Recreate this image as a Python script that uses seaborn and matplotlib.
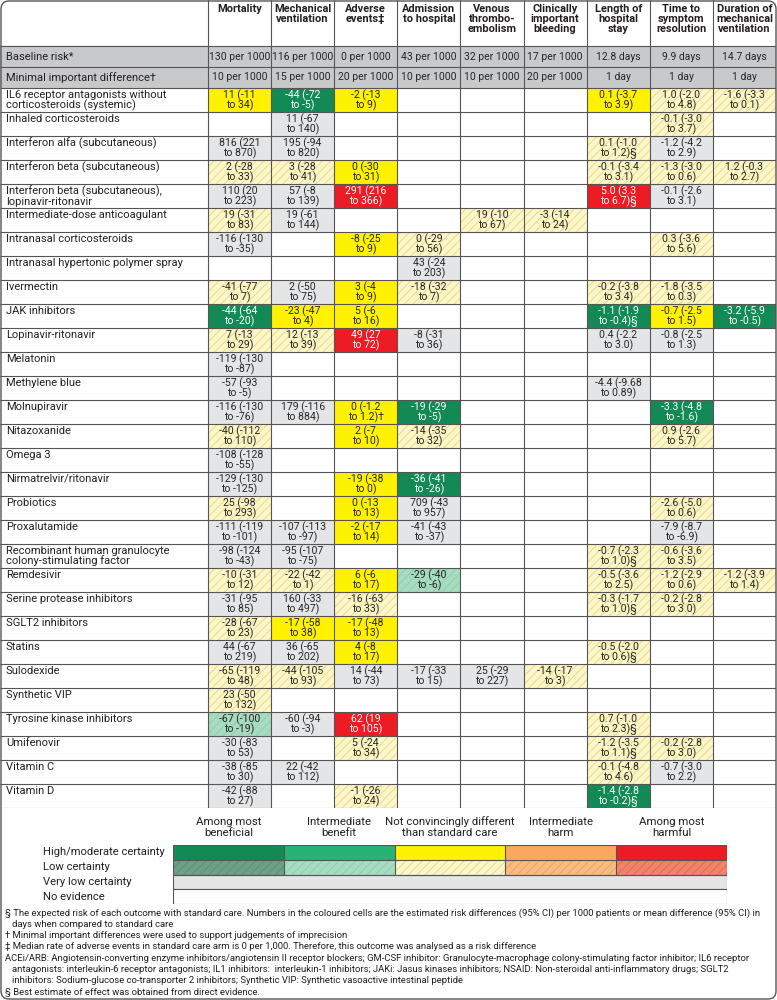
import matplotlib
matplotlib.use("Agg")
import matplotlib.pyplot as plt
import numpy as np
import pandas as pd
import seaborn as sns
from matplotlib.colors import ListedColormap
from matplotlib.patches import Rectangle, FancyBboxPatch
from matplotlib.transforms import blended_transform_factory

# -------------------- DATA --------------------
outcomes = ["Mortality", "Mechanical\nventilation", "Adverse\nevents‡", "Admission\nto hospital",
            "Venous\nthrombo-\nembolism", "Clinically\nimportant\nbleeding", "Length of\nhospital\nstay",
            "Time to\nsymptom\nresolution", "Duration of\nmechanical\nventilation"]
baseline_risk = ["130 per 1000", "116 per 1000", "0 per 1000", "43 per 1000", "32 per 1000",
                 "17 per 1000", "12.8 days", "9.9 days", "14.7 days"]
minimal_difference = ["10 per 1000", "15 per 1000", "20 per 1000", "10 per 1000", "10 per 1000",
                      "20 per 1000", "1 day", "1 day", "1 day"]

drugs = ["IL6 receptor antagonists without\ncorticosteroids (systemic)", "Inhaled corticosteroids",
         "Interferon alfa (subcutaneous)", "Interferon beta (subcutaneous)",
         "Interferon beta (subcutaneous),\nlopinavir-ritonavir", "Intermediate-dose anticoagulant",
         "Intranasal corticosteroids", "Intranasal hypertonic polymer spray", "Ivermectin",
         "JAK inhibitors", "Lopinavir-ritonavir", "Melatonin", "Methylene blue", "Molnupiravir",
         "Nitazoxanide", "Omega 3", "Nirmatrelvir/ritonavir", "Probiotics", "Proxalutamide",
         "Recombinant human granulocyte\ncolony-stimulating factor", "Remdesivir",
         "Serine protease inhibitors", "SGLT2 inhibitors", "Statins", "Sulodexide", "Synthetic VIP",
         "Tyrosine kinase inhibitors", "Umifenovir", "Vitamin C", "Vitamin D"]

# grade codes: G/M/Y/O/R high-moderate certainty (most beneficial .. most harmful),
# lowercase = low certainty, V = very low certainty, . = no evidence
mortality = ["11 (-11 to 34)", "", "816 (221 to 870)", "2 (-28 to 33)", "110 (20 to 223)",
             "19 (-31 to 83)", "-116 (-130 to -35)", "", "-41 (-77 to 7)", "-44 (-64 to -20)",
             "7 (-13 to 29)", "-119 (-130 to -87)", "-57 (-93 to -5)", "-116 (-130 to -76)",
             "-40 (-112 to 110)", "-108 (-128 to -55)", "-129 (-130 to -125)", "25 (-98 to 293)",
             "-111 (-119 to -101)", "-98 (-124 to -43)", "-10 (-31 to 12)", "-31 (-95 to 85)",
             "-28 (-67 to 23)", "44 (-67 to 219)", "-65 (-119 to 48)", "23 (-50 to 132)",
             "-67 (-100 to -19)", "-30 (-83 to 53)", "-38 (-85 to 30)", "-42 (-88 to 27)"]
mortality_grade = "Y . V y V y V . y G y V V V y V V y V V y V y V y y m V V V".split()

ventilation = ["-44 (-72 to -5)", "11 (-67 to 140)", "195 (-94 to 820)", "3 (-28 to 41)",
               "57 (-8 to 139)", "19 (-61 to 144)", "", "", "2 (-50 to 75)", "-23 (-47 to 4)",
               "12 (-13 to 39)", "", "", "179 (-116 to 884)", "", "", "", "",
               "-107 (-113 to -97)", "-95 (-107 to -75)", "-22 (-42 to 1)", "160 (-33 to 497)",
               "-17 (-58 to 38)", "36 (-65 to 202)", "-44 (-105 to 93)", "", "-60 (-94 to -3)",
               "", "22 (-42 to 112)", ""]
ventilation_grade = "G V V y V V . . V Y y . . V . . . . V V y V Y V y . V . V .".split()

adverse_events = ["-2 (-13 to 9)", "", "", "0 (-30 to 31)", "291 (216 to 366)", "",
                  "-8 (-25 to 9)", "", "3 (-4 to 9)", "5 (-6 to 16)", "49 (27 to 72)", "", "",
                  "0 (-1.2 to 1.2)†", "2 (-7 to 10)", "", "-19 (-38 to 0)", "0 (-13 to 13)",
                  "-2 (-17 to 14)", "", "6 (-6 to 17)", "-16 (-63 to 33)", "-17 (-48 to 13)",
                  "4 (-8 to 17)", "14 (-44 to 73)", "", "62 (19 to 105)", "5 (-24 to 34)", "",
                  "-1 (-26 to 24)"]
adverse_events_grade = "Y . . Y R . Y . Y Y R . . Y Y . Y Y Y . Y y Y Y V . R y . y".split()

admission = ["", "", "", "", "", "", "0 (-29 to 56)", "43 (-24 to 203)", "-18 (-32 to 7)", "",
             "-8 (-31 to 36)", "", "", "-19 (-29 to -5)", "-14 (-35 to 32)", "",
             "-36 (-41 to -26)", "709 (-43 to 957)", "-41 (-43 to -37)", "", "-29 (-40 to -6)",
             "", "", "", "-17 (-33 to 15)", "", "", "", "", ""]
admission_grade = ". . . . . . y V y . V . . G y . G V V . m . . . V . . . . .".split()

thromboembolism = [""] * 5 + ["19 (-10 to 67)"] + [""] * 18 + ["25 (-29 to 227)"] + [""] * 5
thromboembolism_grade = ". . . . . y . . . . . . . . . . . . . . . . . . V . . . . .".split()

bleeding = [""] * 5 + ["-3 (-14 to 24)"] + [""] * 18 + ["-14 (-17 to 3)"] + [""] * 5
bleeding_grade = ". . . . . y . . . . . . . . . . . . . . . . . . y . . . . .".split()

hospital_stay = ["0.1 (-3.7 to 3.9)", "", "0.1 (-1.0 to 1.2)§", "-0.1 (-3.4 to 3.1)",
                 "5.0 (3.3 to 6.7)§", "", "", "", "-0.2 (-3.8 to 3.4)", "-1.1 (-1.9 to -0.4)§",
                 "0.4 (-2.2 to 3.0)", "", "-4.4 (-9.68 to 0.89)", "", "", "", "", "", "",
                 "-0.7 (-2.3 to 1.0)§", "-0.5 (-3.6 to 2.5)", "-0.3 (-1.7 to 1.0)§", "",
                 "-0.5 (-2.0 to 0.6)§", "", "", "0.7 (-1.0 to 2.3)§", "-1.2 (-3.5 to 1.1)§",
                 "-0.1 (-4.8 to 4.6)", "-1.4 (-2.8 to -0.2)§"]
hospital_stay_grade = "Y . y y R . . . y G V . V . . . . . . y y y . y . . y y y G".split()

symptom_resolution = ["1.0 (-2.0 to 4.8)", "-0.1 (-3.0 to 3.7)", "-1.2 (-4.2 to 2.9)",
                      "-1.3 (-3.0 to 0.6)", "-0.1 (-2.6 to 3.1)", "", "0.3 (-3.6 to 5.6)", "",
                      "-1.8 (-3.5 to 0.3)", "-0.7 (-2.5 to 1.5)", "-0.8 (-2.5 to 1.3)", "", "",
                      "-3.3 (-4.8 to -1.6)", "0.9 (-2.6 to 5.7)", "", "", "-2.6 (-5.0 to 0.6)",
                      "-7.9 (-8.7 to -6.9)", "-0.6 (-3.6 to 3.5)", "-1.2 (-2.9 to 0.6)",
                      "-0.2 (-2.8 to 3.0)", "", "", "", "", "", "-0.2 (-2.8 to 3.0)",
                      "-0.7 (-3.0 to 2.2)", ""]
symptom_resolution_grade = "y y V y V . y . y Y V . . G y . . y V y y y . . . . . y V .".split()

ventilation_days = ["-1.6 (-3.3 to 0.1)", "", "", "1.2 (-0.3 to 2.7)", "", "", "", "", "",
                    "-3.2 (-5.9 to -0.5)", "", "", "", "", "", "", "", "", "", "",
                    "-1.2 (-3.9 to 1.4)", "", "", "", "", "", "", "", "", ""]
ventilation_days_grade = "y . . y . . . . . G . . . . . . . . . . y . . . . . . . . .".split()

legend_categories = ["Among most\nbeneficial", "Intermediate\nbenefit",
                     "Not convincingly different\nthan standard care", "Intermediate\nharm",
                     "Among most\nharmful"]
legend_certainty = ["High/moderate certainty", "Low certainty", "Very low certainty", "No evidence"]
legend_high = ["G", "M", "Y", "O", "R"]
legend_low = ["g", "m", "y", "o", "r"]

footnotes = [
    ("§ The expected risk of each outcome with standard care. Numbers in the coloured cells are the estimated risk differences (95% CI) per 1000 patients or mean difference (95% CI) in", 0),
    ("days when compared to standard care", 1),
    ("† Minimal important differences were used to support judgements of imprecision", 0),
    ("‡ Median rate of adverse events in standard care arm is 0 per 1,000. Therefore, this outcome was analysed as a risk difference", 0),
    ("ACEi/ARB: Angiotensin-converting enzyme inhibitors/angiotensin II receptor blockers; GM-CSF inhibitor: Granulocyte-macrophage colony-stimulating factor inhibitor; IL6 receptor", 0),
    ("antagonists: interleukin-6 receptor antagonists; IL1 inhibitors:  interleukin-1 inhibitors; JAKi: Jasus kinases inhibitors; NSAID: Non-steroidal anti-inflammatory drugs; SGLT2", 1),
    ("inhibitors: Sodium-glucose co-transporter 2 inhibitors; Synthetic VIP: Synthetic vasoactive intestinal peptide", 1),
    ("§ Best estimate of effect was obtained from direct evidence.", 0),
]

# -------------------- STYLE --------------------
codes = [".", "V", "G", "M", "Y", "O", "R", "g", "m", "y", "o", "r"]
grade_colors = {".": "#ffffff", "V": "#e4e5e7", "G": "#138a55", "M": "#27b376", "Y": "#fff200",
                "O": "#f9a85d", "R": "#ec1c24", "g": "#6e9f87", "m": "#a8dcc1", "y": "#fdf6c6",
                "o": "#f9bb80", "r": "#f0836a"}
hatch_colors = {"g": "#5b8c74", "m": "#8ccdaa", "y": "#e2d68e", "o": "#e9a064", "r": "#e06650"}
header_grey = "#c8c9cb"
line_color = "#555555"
text_color = "#231f20"
cmap = ListedColormap([grade_colors[c] for c in codes])

sns.set_style("white")
plt.rcParams["font.family"] = ["Roboto", "DejaVu Sans"]
plt.rcParams["hatch.linewidth"] = 0.6

W, H = 777, 1000
TABLE_R = 776
LABEL_PX = 208
COL_PX = (TABLE_R - LABEL_PX) / len(outcomes)
LABEL_U = LABEL_PX / COL_PX

fig = plt.figure(figsize=(W / 100, H / 100), dpi=100)


def px_axes(x0, y0, x1, y1):
    return fig.add_axes([x0 / W, 1 - y1 / H, (x1 - x0) / W, (y1 - y0) / H])


def split_ci(s):
    return s.replace(" to ", "\nto ", 1) if s else ""


def add_hatching(ax, grade_grid):
    for i, row in enumerate(grade_grid):
        for j, g in enumerate(row):
            if g in hatch_colors:
                ax.add_patch(Rectangle((j, i), 1, 1, fill=False, hatch="////",
                                       edgecolor=hatch_colors[g], linewidth=0, zorder=2))


# -------------------- HEADER + BASELINE ROWS --------------------
ax_top = px_axes(0, 0, TABLE_R, 88)
head_u = 46 / 21
top_df = pd.DataFrame([baseline_risk, minimal_difference], columns=outcomes)
sns.heatmap(np.zeros(top_df.shape), cmap=ListedColormap([header_grey]), vmin=0, vmax=1,
            annot=top_df.values, fmt="", cbar=False, ax=ax_top,
            xticklabels=False, yticklabels=False, annot_kws=dict(fontsize=7.5))
ax_top.set_xlim(-LABEL_U, len(outcomes))
ax_top.set_ylim(2, -head_u)
ax_top.add_patch(Rectangle((-LABEL_U, 0), LABEL_U, 2, color=header_grey, zorder=0.5))
for j, name in enumerate(outcomes):
    ax_top.text(j + 0.5, -head_u + 4 / 21, name, ha="center", va="top", fontsize=7.9,
                fontweight="bold", linespacing=1.0, color=text_color)
for i, name in enumerate(["Baseline risk*", "Minimal important difference†"]):
    ax_top.text(-LABEL_U + 6 / COL_PX, i + 0.5, name, ha="left", va="center", fontsize=8.0,
                color=text_color)
ax_top.hlines([0, 1, 2], -LABEL_U, len(outcomes), color=line_color, lw=0.8, zorder=4)
ax_top.vlines(range(len(outcomes)), -head_u, 2, color=line_color, lw=0.8, zorder=4)
ax_top.axis("off")

# -------------------- MAIN TABLE --------------------
columns = [mortality, ventilation, adverse_events, admission, thromboembolism, bleeding,
           hospital_stay, symptom_resolution, ventilation_days]
grades = [mortality_grade, ventilation_grade, adverse_events_grade, admission_grade,
          thromboembolism_grade, bleeding_grade, hospital_stay_grade, symptom_resolution_grade,
          ventilation_days_grade]
text_df = pd.DataFrame({o: [split_ci(v) for v in col] for o, col in zip(outcomes, columns)},
                       index=drugs)
grade_df = pd.DataFrame({o: g for o, g in zip(outcomes, grades)}, index=drugs)
code_df = grade_df.apply(lambda s: s.map(codes.index))

ax = px_axes(0, 88, TABLE_R, 808)
sns.heatmap(code_df, cmap=cmap, vmin=-0.5, vmax=len(codes) - 0.5, annot=text_df.values, fmt="",
            cbar=False, ax=ax, xticklabels=False, yticklabels=False,
            annot_kws=dict(fontsize=7.6, linespacing=0.84))
ax.set_xlim(-LABEL_U, len(outcomes))
ax.set_ylim(len(drugs), 0)
add_hatching(ax, grade_df.values)
for i, name in enumerate(drugs):
    ax.text(-LABEL_U + 6 / COL_PX, i + 0.08, name, ha="left", va="top", fontsize=8.0,
            linespacing=0.9, color=text_color)
ax.hlines(range(len(drugs) + 1), -LABEL_U, len(outcomes), color=line_color, lw=0.8, zorder=4)
ax.vlines(range(len(outcomes)), 0, len(drugs), color=line_color, lw=0.8, zorder=4)
ax.axis("off")

# -------------------- LEGEND --------------------
ax_leg = px_axes(173, 845, 727, 904)
leg_grades = np.array([legend_high, legend_low])
leg_codes = np.vectorize(codes.index)(leg_grades)
sns.heatmap(leg_codes, cmap=cmap, vmin=-0.5, vmax=len(codes) - 0.5, cbar=False, ax=ax_leg,
            xticklabels=False, yticklabels=False)
ax_leg.set_ylim(4, 0)
add_hatching(ax_leg, leg_grades)
ax_leg.add_patch(Rectangle((0, 2), 5, 1, facecolor=grade_colors["V"], edgecolor=line_color, lw=0.8))
ax_leg.add_patch(Rectangle((0, 3), 5, 1, facecolor=grade_colors["."], edgecolor=line_color, lw=0.8))
ax_leg.hlines([0, 1, 2], 0, 5, color=line_color, lw=0.8, zorder=4)
ax_leg.vlines(range(6), 0, 2, color=line_color, lw=0.8, zorder=4)
for j, name in enumerate(legend_categories):
    ax_leg.text(j + 0.5, -0.5, name, ha="center", va="bottom", fontsize=8.2, linespacing=1.05,
                color=text_color)
trans = blended_transform_factory(fig.transFigure, ax_leg.transData)
for i, name in enumerate(legend_certainty):
    ax_leg.text(43 / W, i + 0.5, name, transform=trans, ha="left", va="center", fontsize=8.1,
                color=text_color)
ax_leg.axis("off")

# -------------------- FOOTNOTES --------------------
for k, (line, indent) in enumerate(footnotes):
    fig.text((5 + 7 * indent) / W, 1 - (913 + k * 11.3) / H, line, ha="left", va="center",
             fontsize=6.8, color=text_color)

# outer rounded frame
fig.add_artist(FancyBboxPatch((0.01, 0.01), W / 100 - 0.02, H / 100 - 0.02,
                              boxstyle="round,pad=0,rounding_size=0.08",
                              transform=fig.dpi_scale_trans, fill=False,
                              edgecolor=line_color, linewidth=1.0))

fig.savefig("out.png", dpi=100)
